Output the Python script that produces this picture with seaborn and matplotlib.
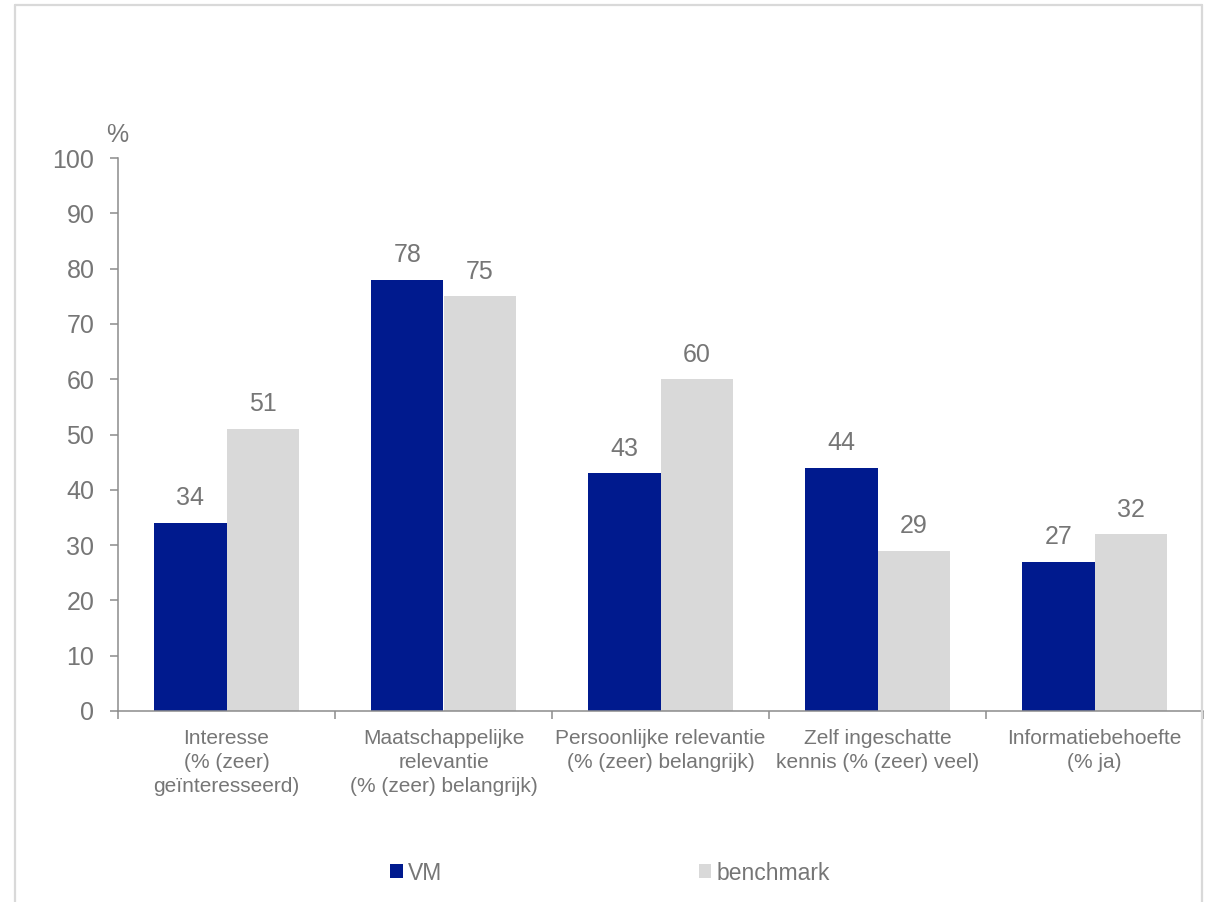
import matplotlib
matplotlib.use("Agg")
import matplotlib.pyplot as plt
from matplotlib.lines import Line2D
from matplotlib.patches import Patch
import numpy as np
import pandas as pd
import seaborn as sns

# Survey results: share of respondents per indicator
categories = [
    "Interesse\n(% (zeer)\ngeïnteresseerd)",
    "Maatschappelijke\nrelevantie\n(% (zeer) belangrijk)",
    "Persoonlijke relevantie\n(% (zeer) belangrijk)",
    "Zelf ingeschatte\nkennis (% (zeer) veel)",
    "Informatiebehoefte\n(% ja)",
]
series_names = ["VM", "benchmark"]
vm_values = [34, 78, 43, 44, 27]
benchmark_values = [51, 75, 60, 29, 32]
y_ticks = [0, 10, 20, 30, 40, 50, 60, 70, 80, 90, 100]

colors = {"VM": "#001A8E", "benchmark": "#D9D9D9"}
text_color = "#767676"
axis_color = "#8C8C8C"

df = pd.DataFrame({
    "categorie": categories * 2,
    "reeks": [series_names[0]] * len(categories) + [series_names[1]] * len(categories),
    "waarde": vm_values + benchmark_values,
})

sns.set_theme(style="white")
plt.rcParams["font.family"] = ["Liberation Sans", "DejaVu Sans"]

W, H = 1208, 902
fig = plt.figure(figsize=(W / 100, H / 100), dpi=100)
ax = fig.add_axes([118 / W, 1 - 711 / H, (1203 - 118) / W, (711 - 158) / H])

sns.barplot(
    data=df, x="categorie", y="waarde", hue="reeks",
    order=categories, hue_order=series_names,
    palette=colors, width=0.667, dodge=True, gap=0,
    saturation=1, legend=False, ax=ax, errorbar=None,
    linewidth=0, edgecolor="none",
)

# value labels on top of each bar
for container, vals in zip(ax.containers, [vm_values, benchmark_values]):
    for patch, v in zip(container, vals):
        ax.annotate(
            f"{v}",
            xy=(patch.get_x() + patch.get_width() / 2, v),
            xytext=(0, 9), textcoords="offset points",
            ha="center", va="bottom", fontsize=18, color=text_color,
        )

ax.set_xlim(-0.5, len(categories) - 0.5)
ax.set_ylim(0, 100)
ax.set_yticks(y_ticks)
ax.set_yticklabels([str(t) for t in y_ticks], fontsize=18, color=text_color)
ax.set_xlabel("")
ax.set_ylabel("")

# category labels centred, tick marks at category boundaries
ax.set_xticks(np.arange(len(categories)))
ax.set_xticklabels(categories, fontsize=15, color=text_color, linespacing=1.33)
ax.set_xticks(np.arange(-0.5, len(categories)), minor=True)
ax.tick_params(axis="x", which="major", length=0, pad=13)
ax.tick_params(axis="x", which="minor", length=6, width=1.1, color=axis_color,
               direction="out", bottom=True)
ax.tick_params(axis="y", which="major", length=6, width=1.1, color=axis_color,
               direction="out", left=True, pad=11)

for side in ["top", "right"]:
    ax.spines[side].set_visible(False)
for side in ["left", "bottom"]:
    ax.spines[side].set_color(axis_color)
    ax.spines[side].set_linewidth(1.1)
ax.grid(False)

# unit above the value axis
fig.text(117 / W, 1 - 135 / H, "%", ha="center", va="center",
         fontsize=18, color=text_color)

# legend below the chart
handles = [Patch(facecolor=colors[s], edgecolor="none") for s in series_names]
fig.legend(
    handles, series_names, loc="center left",
    bbox_to_anchor=(390 / W, 1 - 873 / H), ncol=2, frameon=False,
    fontsize=16.5, labelcolor=text_color, handlelength=0.55, handleheight=0.55,
    handletextpad=0.22, columnspacing=11.2, borderpad=0, borderaxespad=0,
)

# light frame around the chart area
frame_kw = dict(color="#D9D9D9", linewidth=1.6, transform=fig.transFigure)
fig.add_artist(Line2D([15 / W, 15 / W], [0, 1 - 5 / H], **frame_kw))
fig.add_artist(Line2D([15 / W, 1202 / W], [1 - 5 / H, 1 - 5 / H], **frame_kw))
fig.add_artist(Line2D([1202 / W, 1202 / W], [0, 1 - 5 / H], **frame_kw))

fig.savefig("out.png", dpi=100, facecolor="white")
